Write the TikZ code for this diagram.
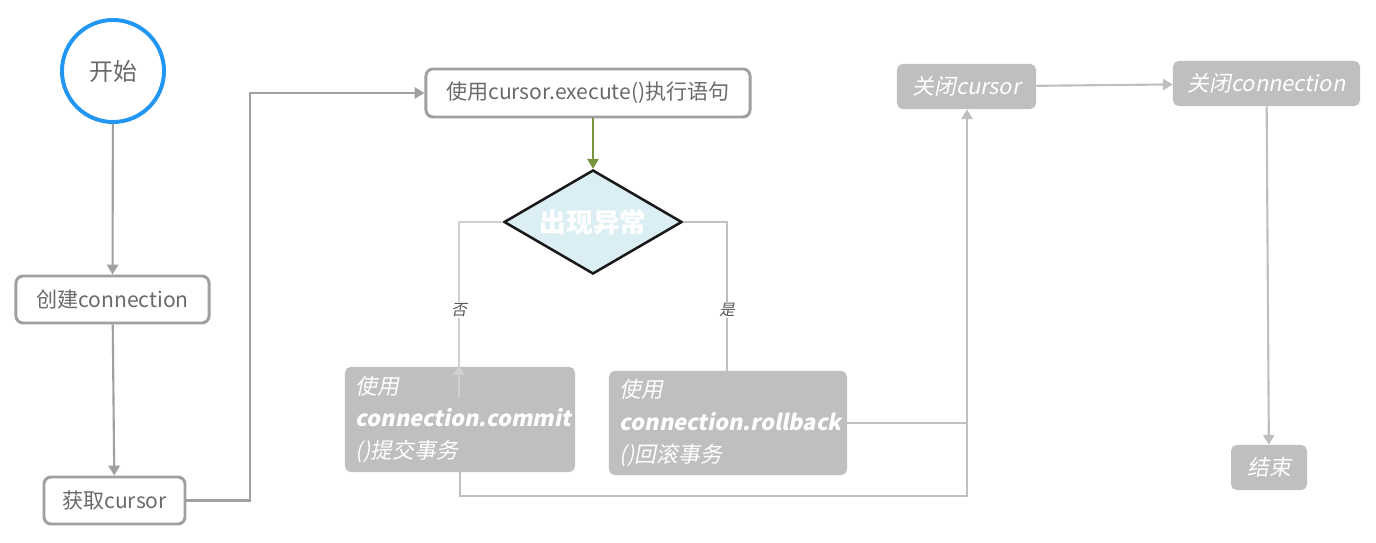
\documentclass[tikz,border=0pt]{standalone}
\usepackage{fontspec}
\setmainfont{Noto Sans CJK SC}
\newfontfamily\cjkit[FakeSlant=0.2]{Noto Sans CJK SC}
\usetikzlibrary{arrows.meta,shapes.geometric}
\definecolor{Frame}{HTML}{A0A0A0}
\definecolor{Label}{HTML}{6A6A6A}
\definecolor{Sky}{HTML}{2196F3}
\definecolor{Olive}{HTML}{77933C}
\definecolor{Ash}{HTML}{BFBFBF}
\definecolor{Mist}{HTML}{D0D0D0}
\definecolor{Ice}{HTML}{DAEEF3}

\begin{document}
\begin{tikzpicture}[x=0.025cm,y=-0.025cm,every node/.style={text=Label},box/.style={draw=Frame,fill=white,line width=2.1pt,rounded corners=5pt,font=\fontsize{15}{18}\selectfont,minimum height=1.175cm},greybox/.style={fill=Ash,rounded corners=4pt,text=white,font=\cjkit\fontsize{15.5}{23}\selectfont},flow/.style={draw=Frame,line width=1.5pt,-{Triangle[length=7pt,width=8pt]}},pale/.style={draw=Ash,line width=1.5pt},tag/.style={fill=white,inner sep=1pt,font=\cjkit\fontsize{11}{12}\selectfont,text=Label!80!black}]
\useasboundingbox (0,0) rectangle (1376,543);
\node[circle,draw=Sky,line width=2.8pt,minimum size=2.55cm,font=\fontsize{17}{20}\selectfont] (start) at (113,71) {开始};
\node[box,minimum width=4.825cm] (conn) at (112.5,299.5) {创建connection};
\node[box,minimum width=3.525cm] (cur) at (114.5,500.5) {获取cursor};
\node[box,minimum width=8.1cm,minimum height=1.2cm] (exec) at (588,93) {使用cursor.execute()执行语句};
\node[diamond,aspect=1.7,draw=black!90,fill=Ice,line width=1.8pt,inner sep=0pt,minimum width=4.45cm,minimum height=2.6cm,text=white,font=\bfseries\fontsize{19}{21}\selectfont] (dia) at (593,222) {出现异常};
\node[greybox,minimum width=5.75cm,minimum height=2.625cm,text width=5.2cm,align=left] (commit) at (460,419.5) {使用\\{\bfseries connection.commit}\\()提交事务};
\node[greybox,minimum width=5.95cm,minimum height=2.6cm,text width=5.4cm,align=left] (roll) at (728,423) {使用\\{\bfseries connection.rollback}\\()回滚事务};
\node[greybox,minimum width=3.475cm,minimum height=1.125cm] (ccur) at (966.5,86.5) {关闭cursor};
\node[greybox,minimum width=4.675cm,minimum height=1.125cm] (cconn) at (1266.5,83.5) {关闭connection};
\node[greybox,minimum width=1.9cm,minimum height=1.125cm] (end) at (1269,467.5) {结束};
\coordinate (noend) at (459,398);
\coordinate (rise) at (967,496);

% main line
\draw[flow] (start) -- (conn);
\draw[flow] (conn) -- (cur);
\draw[flow] (cur.east) -| (250,499) |- (exec.west);
\draw[draw=Olive,line width=1.5pt,-{Triangle[length=7pt,width=8pt]}] (exec.south -| dia.north) -- (dia.north);

% branches
\draw[draw=Mist,line width=1.5pt] (dia.west) -| (noend);
\draw[draw=Mist,line width=1.5pt,-{Triangle[length=7pt,width=8pt]}] (noend) -- ++(0,-33);
\node[tag] (no) at (459,310) {否};
\draw[pale] (dia.east) -| (roll.north -| 727,0);
\node[tag] (yes) at (727,310) {是};
\draw[pale,-{Triangle[length=7pt,width=8pt]}] (commit.south) |- (rise) -- (ccur.south -| rise);
\draw[pale] (roll.east) -- (roll.east -| rise);
\draw[pale,-{Triangle[length=7pt,width=8pt]}] (ccur) -- (cconn);
\draw[pale,-{Triangle[length=7pt,width=8pt]}] (cconn) -- (end);
\end{tikzpicture}
\end{document}
